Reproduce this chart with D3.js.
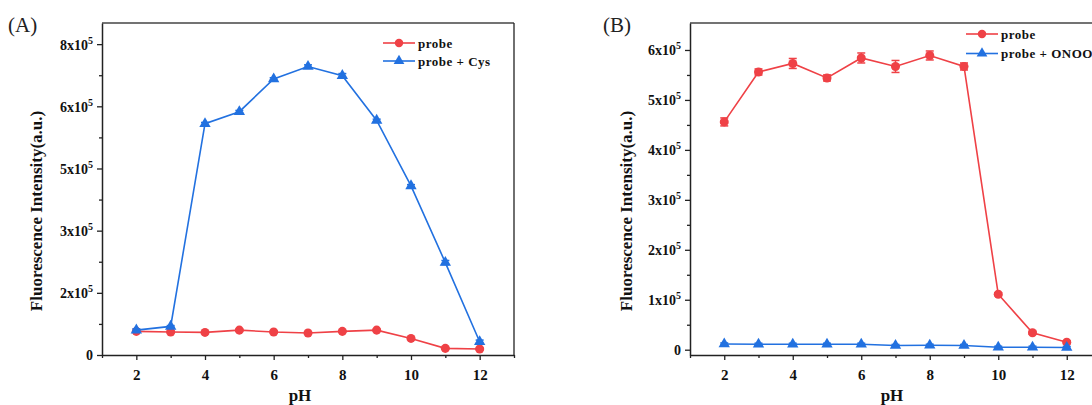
<!DOCTYPE html>
<html>
<head>
<meta charset="utf-8">
<script src="https://cdn.jsdelivr.net/npm/d3@7"></script>
<style>
  body { margin: 0; background: #fff; }
  svg { display: block; }
  text { font-family: "Liberation Serif", "DejaVu Serif", serif; }
</style>
</head>
<body>
<div id="chart"></div>
<script>
// data
var pH = [2, 3, 4, 5, 6, 7, 8, 9, 10, 11, 12];

// panel A
var probeA = [0.57e5, 0.555e5, 0.545e5, 0.60e5, 0.555e5, 0.53e5, 0.57e5, 0.60e5, 0.40e5, 0.16e5, 0.145e5];
var probeAErr = [0.02e5, 0.02e5, 0.02e5, 0.02e5, 0.02e5, 0.02e5, 0.02e5, 0.02e5, 0.02e5, 0.02e5, 0.02e5];
var cysA = [0.60e5, 0.69e5, 5.58e5, 5.87e5, 6.66e5, 6.96e5, 6.74e5, 5.66e5, 4.08e5, 2.23e5, 0.32e5];
var cysAErr = [0.03e5, 0.02e5, 0.03e5, 0.03e5, 0.03e5, 0.04e5, 0.05e5, 0.03e5, 0.03e5, 0.05e5, 0.04e5];
var yTicksA = [0, 1.5e5, 3e5, 4.5e5, 6e5, 7.5e5];
var yLabelsA = [["0", ""], ["2x10", "5"], ["3x10", "5"], ["5x10", "5"], ["6x10", "5"], ["8x10", "5"]];

// panel B
var probeB = [4.56e5, 5.56e5, 5.73e5, 5.44e5, 5.84e5, 5.67e5, 5.89e5, 5.67e5, 1.11e5, 0.34e5, 0.15e5];
var probeBErr = [0.08e5, 0.06e5, 0.1e5, 0.06e5, 0.1e5, 0.12e5, 0.09e5, 0.07e5, 0.03e5, 0.03e5, 0.03e5];
var onooB = [0.115e5, 0.11e5, 0.11e5, 0.11e5, 0.11e5, 0.085e5, 0.09e5, 0.085e5, 0.05e5, 0.05e5, 0.045e5];
var onooBErr = [0.02e5, 0.02e5, 0.02e5, 0.02e5, 0.02e5, 0.02e5, 0.02e5, 0.02e5, 0.02e5, 0.02e5, 0.02e5];
var yTicksB = [0, 1e5, 2e5, 3e5, 4e5, 5e5, 6e5];
var yLabelsB = [["0", ""], ["1x10", "5"], ["2x10", "5"], ["3x10", "5"], ["4x10", "5"], ["5x10", "5"], ["6x10", "5"]];

var xMajor = [2, 4, 6, 8, 10, 12];
var xMinor = [1, 3, 5, 7, 9, 11, 13];

var RED = '#ef4146';
var BLUE = '#2271e0';

var width = 1092, height = 405;

var svg = d3.select('#chart').append('svg')
  .attr('width', width)
  .attr('height', height);

function drawPanel(opt) {
  var x = d3.scaleLinear().domain([1, 13]).range([opt.left, opt.right]);
  var y = d3.scaleLinear().domain(opt.yDomain).range([opt.bottom, opt.top]);

  var g = svg.append('g');

  // frame top/right
  g.append('line')
    .attr('x1', opt.left).attr('x2', opt.right)
    .attr('y1', opt.top).attr('y2', opt.top)
    .attr('stroke', '#444').attr('stroke-width', 1.3);
  g.append('line')
    .attr('x1', opt.right).attr('x2', opt.right)
    .attr('y1', opt.top).attr('y2', opt.bottom)
    .attr('stroke', '#222').attr('stroke-width', 1.3);

  // x axis
  var xAxis = g.append('g')
    .attr('transform', 'translate(0,' + opt.bottom + ')')
    .call(d3.axisBottom(x).tickValues(xMajor).tickSize(5).tickSizeOuter(0).tickFormat(d3.format('d')));
  g.append('g')
    .attr('transform', 'translate(0,' + opt.bottom + ')')
    .call(d3.axisBottom(x).tickValues(xMinor).tickSize(3).tickSizeOuter(0).tickFormat(''))
    .select('.domain').remove();
  xAxis.selectAll('text')
    .attr('font-size', 15).attr('font-weight', 'bold')
    .attr('font-family', '"Liberation Serif", serif')
    .attr('fill', '#111').attr('dy', '1.1em');

  // y axis
  var yAxis = g.append('g')
    .attr('transform', 'translate(' + opt.left + ',0)')
    .call(d3.axisLeft(y).tickValues(opt.yTicks).tickSize(5).tickSizeOuter(0).tickFormat(''));
  g.append('g')
    .attr('transform', 'translate(' + opt.left + ',0)')
    .call(d3.axisLeft(y).tickValues(opt.yMinor).tickSize(3).tickSizeOuter(0).tickFormat(''))
    .select('.domain').remove();

  yAxis.selectAll('.tick').each(function (d, i) {
    var lab = opt.yLabels[i];
    var t = d3.select(this).append('text')
      .attr('x', -9).attr('dy', '0.35em')
      .attr('text-anchor', 'end')
      .attr('font-size', 14).attr('font-weight', 'bold')
      .attr('fill', '#111')
      .attr('font-family', '"Liberation Serif", serif');
    t.append('tspan').text(lab[0]);
    if (lab[1]) {
      t.append('tspan').attr('dy', -6).attr('font-size', 10).text(lab[1]);
    }
  });

  g.selectAll('.domain').attr('stroke', '#222').attr('stroke-width', 1.5);
  g.selectAll('.tick line').attr('stroke', '#222').attr('stroke-width', 1.3);

  // axis titles
  g.append('text')
    .attr('transform', 'translate(' + opt.yTitleX + ',' + ((opt.top + opt.bottom) / 2 + 22) + ') rotate(-90)')
    .attr('text-anchor', 'middle')
    .attr('font-size', 17).attr('font-weight', 'bold').attr('fill', '#111')
    .text('Fluorescence Intensity(a.u.)');
  g.append('text')
    .attr('x', opt.xTitleX).attr('y', 401)
    .attr('text-anchor', 'middle')
    .attr('font-size', 17).attr('font-weight', 'bold').attr('fill', '#111')
    .text('pH');

  // panel letter
  g.append('text')
    .attr('x', opt.letterX).attr('y', 32)
    .attr('font-size', 21).attr('fill', '#222')
    .text(opt.letter);

  var line = d3.line().x(function (d) { return x(d[0]); }).y(function (d) { return y(d[1]); });

  opt.series.forEach(function (s) {
    var pts = pH.map(function (p, i) { return [p, s.values[i], s.err[i]]; });
    var sg = g.append('g');
    sg.append('path')
      .datum(pts)
      .attr('fill', 'none')
      .attr('stroke', s.color)
      .attr('stroke-width', 1.6)
      .attr('d', line);
    // error bars
    var eb = sg.selectAll('.eb').data(pts).enter().append('g').attr('stroke', s.color).attr('stroke-width', 1.5);
    eb.append('line')
      .attr('x1', function (d) { return x(d[0]); }).attr('x2', function (d) { return x(d[0]); })
      .attr('y1', function (d) { return y(d[1] - d[2]); }).attr('y2', function (d) { return y(d[1] + d[2]); });
    eb.append('line')
      .attr('x1', function (d) { return x(d[0]) - 4; }).attr('x2', function (d) { return x(d[0]) + 4; })
      .attr('y1', function (d) { return y(d[1] + d[2]); }).attr('y2', function (d) { return y(d[1] + d[2]); });
    eb.append('line')
      .attr('x1', function (d) { return x(d[0]) - 4; }).attr('x2', function (d) { return x(d[0]) + 4; })
      .attr('y1', function (d) { return y(d[1] - d[2]); }).attr('y2', function (d) { return y(d[1] - d[2]); });
    // markers
    var sym = d3.symbol().type(s.shape).size(s.shape === d3.symbolCircle ? 64 : 56);
    sg.selectAll('.mk').data(pts).enter().append('path')
      .attr('d', sym)
      .attr('transform', function (d) { return 'translate(' + x(d[0]) + ',' + y(d[1]) + ')'; })
      .attr('fill', s.color);
  });

  // legend
  opt.series.forEach(function (s, i) {
    var ly = opt.legendY + i * opt.legendStep;
    g.append('line')
      .attr('x1', opt.legendX).attr('x2', opt.legendX + 32)
      .attr('y1', ly).attr('y2', ly)
      .attr('stroke', s.color).attr('stroke-width', 1.6);
    g.append('path')
      .attr('d', d3.symbol().type(s.shape).size(s.shape === d3.symbolCircle ? 56 : 50))
      .attr('transform', 'translate(' + (opt.legendX + 16) + ',' + ly + ')')
      .attr('fill', s.color);
    var t = g.append('text')
      .attr('x', opt.legendX + 35).attr('y', ly).attr('dy', '0.35em')
      .attr('font-size', 13).attr('font-weight', 'bold').attr('fill', '#111')
      .attr('letter-spacing', 0.5);
    t.append('tspan').text(s.name);
    if (s.sup) t.append('tspan').attr('dy', -5).attr('font-size', 9).text(s.sup);
  });
}

drawPanel({
  letter: '(A)', letterX: 8,
  left: 102, right: 514, top: 23, bottom: 355,
  yDomain: [0, 8.01e5], yTicks: yTicksA, yLabels: yLabelsA,
  yMinor: [0.75e5, 2.25e5, 3.75e5, 5.25e5, 6.75e5],
  yTitleX: 42, xTitleX: 300,
  legendX: 383, legendY: 43, legendStep: 18,
  series: [
    { name: 'probe', values: probeA, err: probeAErr, color: RED, shape: d3.symbolCircle },
    { name: 'probe + Cys', values: cysA, err: cysAErr, color: BLUE, shape: d3.symbolTriangle }
  ]
});

drawPanel({
  letter: '(B)', letterX: 603,
  left: 690, right: 1101, top: 23, bottom: 355,
  yDomain: [-0.106e5, 6.54e5], yTicks: yTicksB, yLabels: yLabelsB,
  yMinor: [0.5e5, 1.5e5, 2.5e5, 3.5e5, 4.5e5, 5.5e5],
  yTitleX: 632, xTitleX: 892,
  legendX: 966, legendY: 34, legendStep: 19.5,
  series: [
    { name: 'probe', values: probeB, err: probeBErr, color: RED, shape: d3.symbolCircle },
    { name: 'probe + ONOO', sup: '\u2212', values: onooB, err: onooBErr, color: BLUE, shape: d3.symbolTriangle }
  ]
});
</script>
</body>
</html>
